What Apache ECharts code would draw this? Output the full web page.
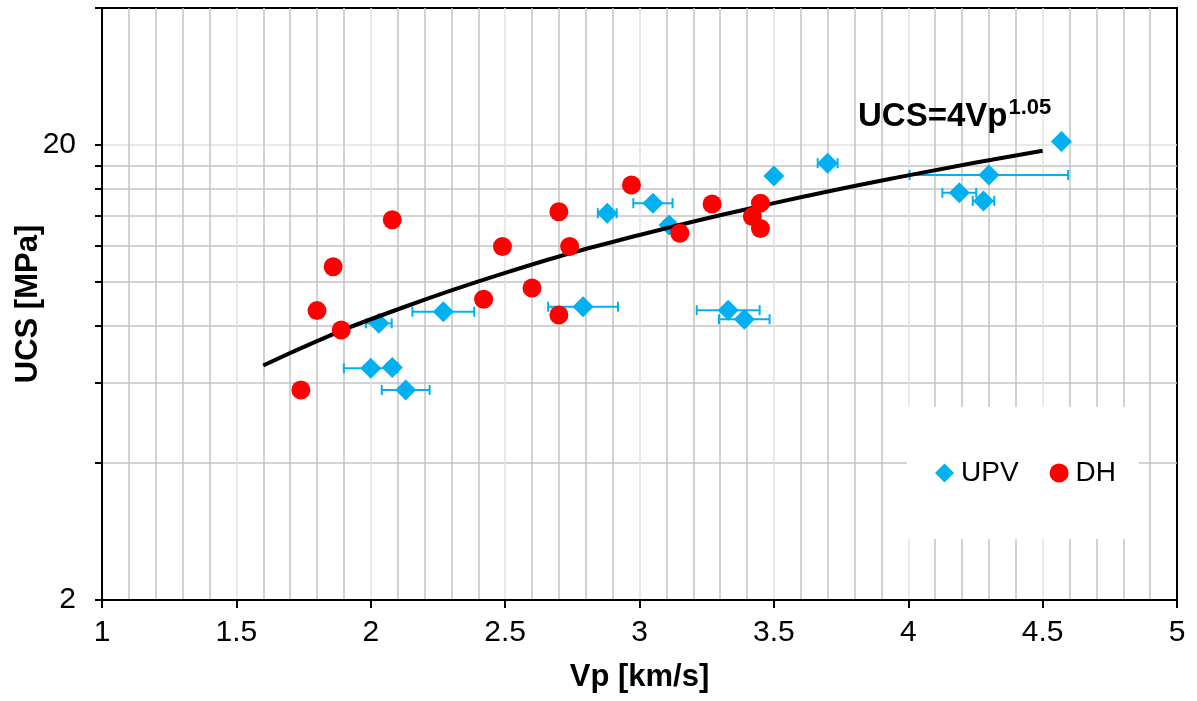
<!DOCTYPE html>
<html>
<head>
<meta charset="utf-8">
<title>UCS vs Vp</title>
<script src="https://cdn.jsdelivr.net/npm/echarts@6/dist/echarts.min.js"></script>
<style>
  html, body {
    margin: 0;
    padding: 0;
    background: #fff;
  }
  #chart {
    width: 1197px;
    height: 701px;
  }
</style>
</head>
<body>
<div id="chart"></div>
<script>
// UPV points: Vp, UCS, error bar half width on Vp
let upv_vp = [2.03, 2.00, 2.08, 2.13, 2.27, 2.79, 2.88, 3.05, 3.11, 3.33, 3.39, 3.50, 3.70, 4.30, 4.19, 4.28, 4.57]
let upv_ucs = [8.11, 6.46, 6.49, 5.79, 8.60, 8.82, 14.16, 14.9, 13.34, 8.67, 8.28, 17.1, 18.24, 17.18, 15.7, 15.07, 20.35]
let upv_err = [0.048, 0.10, 0.02, 0.089, 0.115, 0.13, 0.035, 0.073, 0.02, 0.117, 0.094, 0.015, 0.037, 0.295, 0.063, 0.04, 0.0]

// DH points
let dh_vp = [1.74, 1.80, 1.86, 1.89, 2.08, 2.42, 2.49, 2.60, 2.70, 2.70, 2.74, 2.97, 3.15, 3.27, 3.42, 3.45, 3.45]
let dh_ucs = [5.79, 8.65, 10.8, 7.84, 13.7, 9.16, 11.96, 9.70, 8.46, 14.27, 11.96, 16.34, 12.8, 14.84, 13.92, 14.9, 13.1]

// fitted curve
let fit_vp = [1.6, 1.8, 2.0, 2.5, 3.0, 3.5, 4.0, 4.5]
let fit_ucs = [6.55, 7.41, 8.28, 10.47, 12.68, 14.9, 17.15, 19.42]

let x_labels = [1, 1.5, 2, 2.5, 3, 3.5, 4, 4.5, 5]
let y_ticks = [2, 4, 6, 8, 10, 12, 14, 16, 18, 20, 40]
let y_labels = [2, 20]

let font = 'Liberation Sans, Arial, sans-serif'
let blue = '#00b0f0'
let red = '#ff0000'

let upv_data = upv_vp.map(function (v, i) { return [v, upv_ucs[i]] })
let err_data = upv_vp.map(function (v, i) { return [v, upv_ucs[i], v - upv_err[i], v + upv_err[i]] })
let dh_data = dh_vp.map(function (v, i) { return [v, dh_ucs[i]] })
let fit_data = fit_vp.map(function (v, i) { return [v, fit_ucs[i]] })

let myChart = echarts.init(document.getElementById('chart'))

let option = {
  animation: false,
  textStyle: { fontFamily: font },
  grid: {
    left: 102,
    right: 20,
    top: 8,
    bottom: 101,
    outerBoundsMode: 'none',
    containLabel: false,
    show: true,
    borderColor: '#000',
    borderWidth: 2
  },
  legend: {
    left: 907,
    top: 407,
    orient: 'horizontal',
    backgroundColor: '#fff',
    padding: [52, 23, 52, 28],
    itemGap: 31,
    itemWidth: 19,
    itemHeight: 19,
    textStyle: { fontSize: 28, color: '#000', fontFamily: font, padding: [0, 0, 0, 2] },
    data: [{ name: 'UPV', icon: 'diamond' }, { name: 'DH', icon: 'circle' }]
  },
  xAxis: {
    type: 'value',
    min: 1,
    max: 5,
    interval: 0.5,
    name: 'Vp [km/s]',
    nameLocation: 'middle',
    nameGap: 62,
    nameMoveOverlap: false,
    nameTextStyle: { fontSize: 31, fontWeight: 'bold', color: '#000', fontFamily: font },
    axisLine: { lineStyle: { color: '#000', width: 2 } },
    axisTick: { show: true, inside: false, length: 8, lineStyle: { color: '#000', width: 2 } },
    axisLabel: {
      fontSize: 30,
      color: '#000',
      margin: 18,
      customValues: x_labels,
      formatter: function (v) { return String(v) }
    },
    splitLine: { show: true, showMinLine: false, showMaxLine: false, lineStyle: { color: '#e2e2e2', width: 1.5 } },
    minorTick: { show: false, splitNumber: 5 },
    minorSplitLine: { show: true, lineStyle: { color: '#c4c4c4', width: 1.5 } }
  },
  yAxis: {
    type: 'log',
    logBase: 10,
    min: 2,
    max: 40,
    name: 'UCS [MPa]',
    nameLocation: 'middle',
    nameGap: 58,
    nameMoveOverlap: false,
    nameTextStyle: { fontSize: 31, fontWeight: 'bold', color: '#000', fontFamily: font },
    axisLine: { lineStyle: { color: '#000', width: 2 } },
    axisTick: { show: true, inside: false, length: 7, customValues: y_ticks, lineStyle: { color: '#000', width: 2 } },
    axisLabel: {
      fontSize: 30,
      color: '#000',
      margin: 26,
      customValues: y_labels,
      formatter: function (v) { return String(Math.round(v)) }
    },
    splitLine: {
      show: true,
      showMinLine: false,
      showMaxLine: false,
      lineStyle: {
        color: ['#c4c4c4', '#c4c4c4', '#c4c4c4', '#c4c4c4', '#c4c4c4', '#c4c4c4', '#c4c4c4', '#c4c4c4', '#e2e2e2'],
        width: 1.5
      }
    }
  },
  graphic: [{
    type: 'text',
    left: 858,
    top: 97,
    z: 10,
    style: {
      text: '{a|UCS=4Vp}{b|1.05}',
      rich: {
        a: { fontSize: 33, fontWeight: 'bold', fill: '#000', fontFamily: font, lineHeight: 40 },
        b: { fontSize: 22, fontWeight: 'bold', fill: '#000', fontFamily: font, verticalAlign: 'top', lineHeight: 30, padding: [0, 0, 0, 1] }
      }
    }
  }],
  series: [
    {
      name: 'UPV err',
      type: 'custom',
      z: 2,
      renderItem: function (params, api) {
        let y = api.value(1)
        let p0 = api.coord([api.value(2), y])
        let p1 = api.coord([api.value(3), y])
        let cap = 5
        let style = { stroke: blue, lineWidth: 2 }
        return {
          type: 'group',
          children: [
            { type: 'line', shape: { x1: p0[0], y1: p0[1], x2: p1[0], y2: p1[1] }, style: style },
            { type: 'line', shape: { x1: p0[0], y1: p0[1] - cap, x2: p0[0], y2: p0[1] + cap }, style: style },
            { type: 'line', shape: { x1: p1[0], y1: p1[1] - cap, x2: p1[0], y2: p1[1] + cap }, style: style }
          ]
        }
      },
      encode: { x: 0, y: 1 },
      data: err_data
    },
    {
      name: 'UPV',
      type: 'scatter',
      z: 3,
      symbol: 'diamond',
      symbolSize: 21,
      itemStyle: { color: blue, opacity: 1 },
      data: upv_data
    },
    {
      name: 'fit',
      type: 'line',
      z: 4,
      smooth: true,
      symbol: 'none',
      lineStyle: { color: '#000', width: 4 },
      data: fit_data
    },
    {
      name: 'DH',
      type: 'scatter',
      z: 5,
      symbol: 'circle',
      symbolSize: 19,
      itemStyle: { color: red, opacity: 1 },
      data: dh_data
    }
  ]
}

myChart.setOption(option)
</script>
</body>
</html>
